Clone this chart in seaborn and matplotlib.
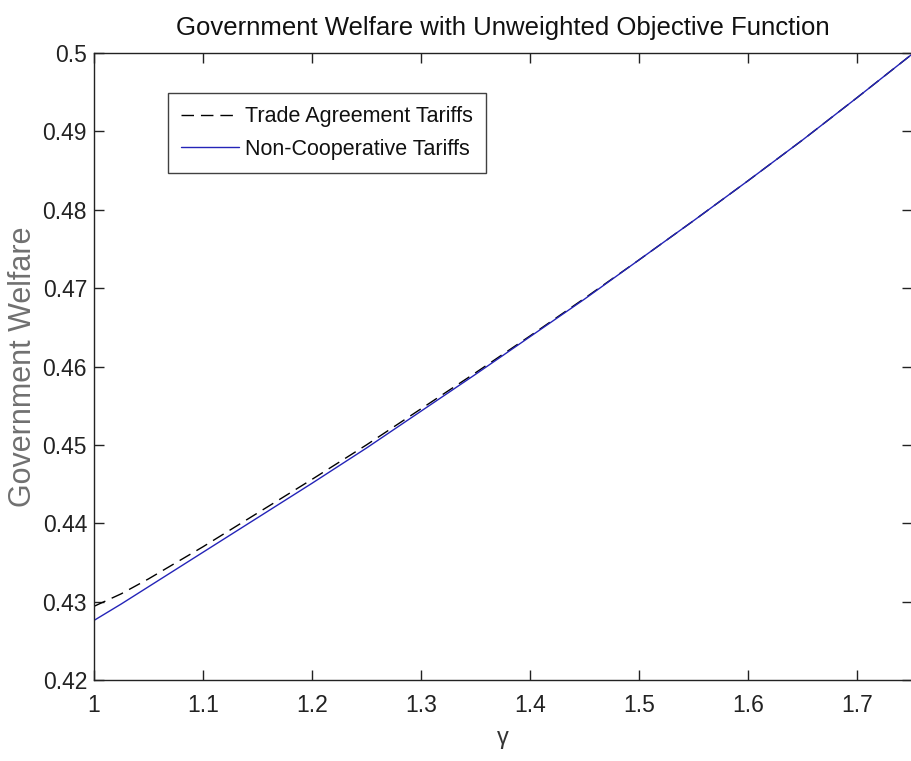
import matplotlib
matplotlib.use("Agg")
import matplotlib.pyplot as plt
import seaborn as sns
import pandas as pd

# gamma grid and welfare levels for the two tariff regimes
gamma = [1.0, 1.025, 1.05, 1.1, 1.15, 1.2, 1.25, 1.3, 1.35, 1.4, 1.45,
         1.5, 1.55, 1.6, 1.65, 1.7, 1.75]
welfare_agreement = [0.4294, 0.4310, 0.4329, 0.4370, 0.4413, 0.4456, 0.4500,
                     0.4546, 0.4592, 0.4639, 0.4687, 0.4736, 0.4786, 0.4837,
                     0.4889, 0.4943, 0.4998]
welfare_noncoop = [0.4276, 0.4297, 0.4319, 0.4363, 0.4407, 0.4451, 0.4496,
                   0.4543, 0.4590, 0.4638, 0.4686, 0.4736, 0.4786, 0.4837,
                   0.4889, 0.4943, 0.4998]
series_labels = ["Trade Agreement Tariffs", "Non-Cooperative Tariffs"]
x_ticks = [1.0, 1.1, 1.2, 1.3, 1.4, 1.5, 1.6, 1.7]
x_tick_labels = ["1", "1.1", "1.2", "1.3", "1.4", "1.5", "1.6", "1.7"]
y_ticks = [0.42, 0.43, 0.44, 0.45, 0.46, 0.47, 0.48, 0.49, 0.5]
y_tick_labels = ["0.42", "0.43", "0.44", "0.45", "0.46", "0.47", "0.48", "0.49", "0.5"]

df = pd.DataFrame({"gamma": gamma,
                   "agree": welfare_agreement,
                   "noncoop": welfare_noncoop})

sns.set_theme(style="ticks")
plt.rcParams["font.family"] = ["Liberation Sans Narrow", "Liberation Sans", "DejaVu Sans"]

fig = plt.figure(figsize=(9.12, 7.61), dpi=100)
ax = fig.add_axes([94 / 912, 81 / 761, 818 / 912 - 0.0005, 627 / 761])

sns.lineplot(data=df, x="gamma", y="agree", ax=ax, color="black",
             linewidth=1.0, label=series_labels[0])
sns.lineplot(data=df, x="gamma", y="noncoop", ax=ax, color="#2424b8",
             linewidth=1.0, label=series_labels[1])
ax.lines[0].set_dashes([9, 5])

ax.set_xlim(1.0, 1.75)
ax.set_ylim(0.42, 0.5)
ax.set_xticks(x_ticks)
ax.set_xticklabels(x_tick_labels)
ax.set_yticks(y_ticks)
ax.set_yticklabels(y_tick_labels)

ax.tick_params(direction="in", length=7.5, width=1.0, colors="#222222",
               labelsize=16.5, top=True, right=True)
ax.tick_params(axis="x", pad=10)
ax.tick_params(axis="y", pad=5)
for s in ax.spines.values():
    s.set_visible(True)
    s.set_linewidth(1.0)
    s.set_color("#222222")

ax.set_xlabel("γ", fontsize=17, color="#333333", labelpad=7)
ax.set_ylabel("Government Welfare", fontsize=22, color="#707070", labelpad=3)
ax.set_title("Government Welfare with Unweighted Objective Function",
             fontsize=18.5, color="#111111", pad=13)

leg = ax.legend(loc="upper left", bbox_to_anchor=(0.0905, 0.936),
                fontsize=15.5, frameon=True, fancybox=False, shadow=False,
                handlelength=2.7, handletextpad=0.3, borderpad=0.6,
                labelspacing=0.55, borderaxespad=0)
leg.get_frame().set_edgecolor("#111111")
leg.get_frame().set_linewidth(1.0)
for t in leg.get_texts():
    t.set_color("#111111")

fig.savefig("out.png", dpi=100, facecolor="white")
